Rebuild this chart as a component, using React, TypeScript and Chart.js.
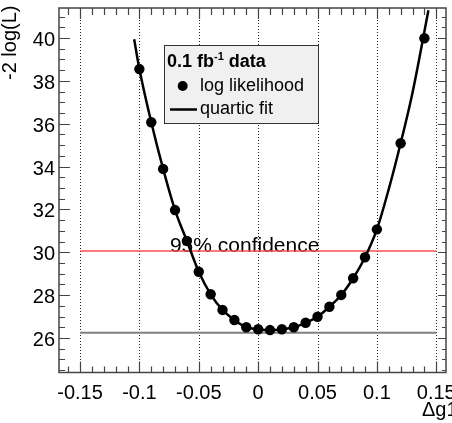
import React, { useEffect, useRef } from "react";
import { Chart, registerables } from "chart.js";

Chart.register(...registerables);

// ---- data ----
const scanX = [-0.1, -0.09, -0.08, -0.07, -0.06, -0.05, -0.04, -0.03, -0.02, -0.01, 0, 0.01, 0.02, 0.03, 0.04, 0.05, 0.06, 0.07, 0.08, 0.09, 0.1, 0.12, 0.14];
const scanY = [38.55, 36.07, 33.89, 31.97, 30.53, 29.09, 28.04, 27.31, 26.84, 26.5, 26.41, 26.37, 26.41, 26.5, 26.71, 26.99, 27.46, 28.01, 28.79, 29.77, 31.07, 35.09, 39.99];

const fitX = [-0.1044, -0.1, -0.09, -0.08, -0.07, -0.06, -0.05, -0.04, -0.03, -0.02, -0.01, 0, 0.01, 0.02, 0.03, 0.04, 0.05, 0.06, 0.07, 0.08, 0.09, 0.1, 0.11, 0.12, 0.13, 0.1434];
const fitY = [39.94, 38.55, 36.07, 33.89, 31.97, 30.53, 29.09, 28.04, 27.31, 26.84, 26.5, 26.41, 26.37, 26.41, 26.5, 26.71, 26.99, 27.46, 28.01, 28.79, 29.77, 31.07, 32.95, 35.09, 37.45, 41.3];

const confLevel = 30.06;
const minLevel = 26.25;
const lineRangeX = [-0.15, 0.15];

const xMajorTicks = [-0.15, -0.1, -0.05, 0, 0.05, 0.1, 0.15];
const xTickLabels = ["-0.15", "-0.1", "-0.05", "0", "0.05", "0.1", "0.15"];
const yMajorTicks = [26, 28, 30, 32, 34, 36, 38, 40];
const yTickLabels = ["26", "28", "30", "32", "34", "36", "38", "40"];

const xTitle = "\u0394g1";
const yTitle = "-2 log(L)";
const confText = "95% confidence";
const legendTitle = ["0.1 fb", "-1", " data"];
const legendPoints = "log likelihood";
const legendLine = "quartic fit";

const FONT = "'Liberation Sans', Arial, Helvetica, sans-serif";

const rootPlugin = {
  id: "rootStyle",
  beforeDatasetsDraw(chart: any) {
    const { ctx, chartArea: a, scales } = chart;
    const xs = scales.x, ys = scales.y;
    ctx.save();
    // dotted vertical grid
    ctx.strokeStyle = "#222";
    ctx.lineWidth = 1;
    ctx.setLineDash([1, 2]);
    for (const v of xMajorTicks) {
      const px = Math.round(xs.getPixelForValue(v)) + 0.5;
      ctx.beginPath();
      ctx.moveTo(px, a.top);
      ctx.lineTo(px, a.bottom);
      ctx.stroke();
    }
    ctx.setLineDash([]);
    // confidence text
    ctx.fillStyle = "#000";
    ctx.font = `21px ${FONT}`;
    ctx.textBaseline = "alphabetic";
    ctx.textAlign = "left";
    ctx.fillText(confText, xs.getPixelForValue(-0.0743), ys.getPixelForValue(confLevel) + 0.5);
    ctx.restore();
  },
  afterDatasetsDraw(chart: any) {
    const { ctx, chartArea: a, scales } = chart;
    const xs = scales.x, ys = scales.y;
    ctx.save();
    // frame
    ctx.strokeStyle = "#444";
    ctx.lineWidth = 1.5;
    ctx.strokeRect(a.left, a.top, a.right - a.left, a.bottom - a.top);
    // ticks
    ctx.lineWidth = 1.2;
    ctx.beginPath();
    const xMin = Math.ceil(xs.min * 100 - 1e-6);
    const xMax = Math.floor(xs.max * 100 + 1e-6);
    for (let i = xMin; i <= xMax; i++) {
      const v = i / 100;
      const major = i % 5 === 0;
      const px = Math.round(xs.getPixelForValue(v)) + 0.5;
      const L = major ? 11 : 6;
      ctx.moveTo(px, a.bottom);
      ctx.lineTo(px, a.bottom - L);
      ctx.moveTo(px, a.top);
      ctx.lineTo(px, a.top + (major ? 11 : 7));
    }
    const yMin = Math.ceil(ys.min * 2 - 1e-6);
    const yMax = Math.floor(ys.max * 2 + 1e-6);
    for (let i = yMin; i <= yMax; i++) {
      const v = i / 2;
      const major = i % 4 === 0;
      const py = Math.round(ys.getPixelForValue(v)) + 0.5;
      ctx.moveTo(a.left, py);
      ctx.lineTo(a.left + (major ? 11 : 6), py);
      ctx.moveTo(a.right, py);
      ctx.lineTo(a.right - (major ? 8 : 4), py);
    }
    ctx.stroke();
    // tick labels
    ctx.fillStyle = "#000";
    ctx.font = `20px ${FONT}`;
    ctx.textBaseline = "alphabetic";
    ctx.textAlign = "center";
    xMajorTicks.forEach((v, i) => {
      ctx.fillText(xTickLabels[i], xs.getPixelForValue(v), a.bottom + 26);
    });
    ctx.textAlign = "right";
    yMajorTicks.forEach((v, i) => {
      ctx.fillText(yTickLabels[i], a.left - 4, ys.getPixelForValue(v) + 8);
    });
    // axis titles
    ctx.textAlign = "left";
    ctx.fillText(xTitle, 422, 416);
    ctx.save();
    ctx.translate(15.5, 80);
    ctx.rotate(-Math.PI / 2);
    ctx.textAlign = "left";
    ctx.fillText(yTitle, 0, 0);
    ctx.restore();
    // legend
    const lx = 164.5, ly = 45.5, lw = 154, lh = 78;
    ctx.fillStyle = "#f0f0f0";
    ctx.fillRect(lx, ly, lw, lh);
    ctx.strokeStyle = "#333";
    ctx.lineWidth = 1;
    ctx.strokeRect(lx, ly, lw, lh);
    ctx.fillStyle = "#000";
    ctx.font = `bold 18px ${FONT}`;
    let tx = 167;
    ctx.fillText(legendTitle[0], tx, 67);
    tx += ctx.measureText(legendTitle[0]).width;
    ctx.font = `bold 11px ${FONT}`;
    ctx.fillText(legendTitle[1], tx, 60);
    tx += ctx.measureText(legendTitle[1]).width;
    ctx.font = `bold 18px ${FONT}`;
    ctx.fillText(legendTitle[2], tx, 67);
    ctx.beginPath();
    ctx.arc(182.7, 86, 5, 0, Math.PI * 2);
    ctx.fill();
    ctx.font = `18px ${FONT}`;
    ctx.fillText(legendPoints, 200, 91);
    ctx.strokeStyle = "#000";
    ctx.lineWidth = 2.5;
    ctx.beginPath();
    ctx.moveTo(170, 109.5);
    ctx.lineTo(197, 109.5);
    ctx.stroke();
    ctx.fillText(legendLine, 200, 114);
    ctx.restore();
  },
};

export default function App() {
  const ref = useRef<HTMLCanvasElement | null>(null);
  useEffect(() => {
    if (!ref.current) return;
    const chart = new Chart(ref.current, {
      type: "scatter",
      data: {
        datasets: [
          {
            label: "log likelihood",
            data: scanX.map((x, i) => ({ x, y: scanY[i] })),
            showLine: false,
            pointRadius: 5.2,
            pointBackgroundColor: "#000",
            pointBorderWidth: 0,
            order: 0,
          },
          {
            label: "quartic fit",
            data: fitX.map((x, i) => ({ x, y: fitY[i] })),
            showLine: true,
            borderColor: "#000",
            borderWidth: 2.5,
            pointRadius: 0,
            cubicInterpolationMode: "monotone",
            order: 1,
          },
          {
            label: "conf",
            data: lineRangeX.map((x) => ({ x, y: confLevel })),
            showLine: true,
            borderColor: "#ff5050",
            borderWidth: 1.5,
            pointRadius: 0,
            order: 2,
          },
          {
            label: "min",
            data: lineRangeX.map((x) => ({ x, y: minLevel })),
            showLine: true,
            borderColor: "#808080",
            borderWidth: 2,
            pointRadius: 0,
            order: 3,
          },
        ],
      },
      options: {
        animation: false,
        responsive: false,
        devicePixelRatio: 1,
        layout: { padding: { left: 59, top: 8, right: 6, bottom: 50.5 } },
        plugins: { legend: { display: false }, tooltip: { enabled: false } },
        events: [],
        scales: {
          x: { type: "linear", min: -0.1677, max: 0.1582, display: false },
          y: { type: "linear", min: 24.39, max: 41.4, display: false },
        },
      },
      plugins: [rootPlugin],
    } as any);
    return () => chart.destroy();
  }, []);
  return (
    <div style={{ position: "absolute", left: 0, top: 0, width: 452, height: 423, background: "#fff" }}>
      <canvas ref={ref} width={452} height={423} style={{ display: "block", width: 452, height: 423 }} />
    </div>
  );
}
